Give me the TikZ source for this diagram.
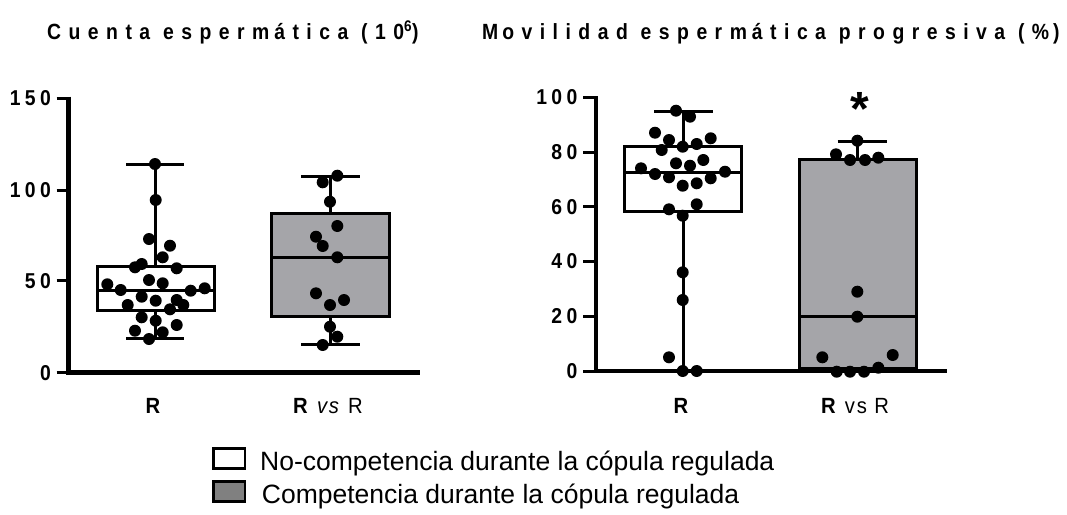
\documentclass[tikz,border=0pt]{standalone}
\usepackage{fontspec}
\setmainfont{Liberation Sans}
\newfontfamily\titlefont[LetterSpace=34,FakeStretch=0.88]{Liberation Sans}
\newfontfamily\tickfont[LetterSpace=20,FakeStretch=0.9]{Liberation Sans}
\newfontfamily\catfont[LetterSpace=8,FakeStretch=0.92]{Liberation Sans}
\definecolor{boxgray}{RGB}{165,165,169}
\definecolor{leggray}{RGB}{128,128,128}
\tikzset{
  axisline/.style={line width=4.5pt},
  tickline/.style={line width=3pt},
  boxline/.style={line width=3pt},
  datadot/.style={fill=black},
  ticklab/.style={anchor=east,inner sep=0pt,font=\tickfont\bfseries\fontsize{21.5}{21.5}\selectfont},
  catlab/.style={anchor=base,inner sep=0pt,font=\catfont\fontsize{22}{22}\selectfont},
  titlelab/.style={anchor=base west,inner sep=0pt,font=\titlefont\bfseries\fontsize{22}{22}\selectfont},
  leglab/.style={anchor=base west,inner sep=0pt,font=\fontsize{26.5}{26.5}\selectfont},
}
\begin{document}
\begin{tikzpicture}[x=1pt,y=-1pt]
\useasboundingbox (0,0) rectangle (1067,514);
% titles
\node[titlelab] (t1) at (47,39) {Cuenta esperm\kern5ptática (10\textsuperscript{6})};
\node[titlelab] (t2) at (482,39) {M\kern4ptovilidad esperm\kern5ptática progresiva (\%\kern4pt)};

% ===== left plot =====
\draw[axisline] (68.3,96.5) -- (68.3,374.5);
\draw[axisline] (66,372.5) -- (420,372.5);
\foreach \yy/\lab in {98.3/150,190/100,280.7/50,372.7/0}{
  \draw[tickline] (56.7,\yy) -- (68,\yy);
  \node[ticklab] (lt\lab) at (51,\yy) {\lab};
}
% box 1 (white)
\draw[boxline] (155.7,164) -- (155.7,338.3);
\draw[boxline,fill=white] (97.3,266) rectangle (214,310.7);
\draw[boxline] (97.3,290) -- (214,290);
\draw[boxline] (126,164) -- (184.3,164);
\draw[boxline] (126,338.3) -- (184.3,338.3);
% box 2 (gray)
\draw[boxline] (330.3,176) -- (330.3,344.3);
\draw[boxline,fill=boxgray] (271.7,213.3) rectangle (389,316);
\draw[boxline] (271.7,257.3) -- (389,257.3);
\draw[boxline] (301,176) -- (360,176);
\draw[boxline] (301,344.3) -- (360,344.3);
% dots
\foreach \px/\py in {155/164,155.7/200,149/239,170/245.7,162.7/257.3,135/267.3,141.7/264,176.7/268.3,
  107.3/284.3,120.7/290,149/280,162.7/283.3,190.7/290.7,204.7/288.3,141.7/296.7,155.7/300.7,
  176.7/300,183.3/305,127.7/305,170/309.3,141.7/317.3,155.7/320.7,176.7/325,135/330.7,162.7/332.3,149/339}
  \fill[datadot] (\px,\py) circle[radius=6pt];
\foreach \px/\py in {337.3/175.7,322.7/182.3,330/201.7,337.3/226,316/236.7,322.7/246,337.3/257.3,
  316/293.3,344/300,330/305,330/326.7,337.3/336.7,322.7/345}
  \fill[datadot] (\px,\py) circle[radius=6pt];
\node[catlab] (c1) at (153,413.3) {\bfseries R};
\node[catlab] (c2) at (328,413.3) {\textbf{R} \textit{vs} R};

% ===== right plot =====
\draw[axisline] (596,96) -- (596,373);
\draw[axisline] (594,371) -- (946.7,371);
\foreach \yy/\lab in {97.3/100,152.3/80,206.7/60,261/40,316/20,371/0}{
  \draw[tickline] (583.3,\yy) -- (595,\yy);
  \node[ticklab] (rt\lab) at (577.5,\yy) {\lab};
}
% box 1 (white)
\draw[boxline] (683,111.3) -- (683,371);
\draw[boxline,fill=white] (624.3,146) rectangle (741.7,211.7);
\draw[boxline] (624.3,172) -- (741.7,172);
\draw[boxline] (654.3,111.3) -- (712.7,111.3);
% box 2 (gray)
\draw[boxline] (857.5,141) -- (857.5,159);
\draw[boxline,fill=boxgray] (799,159) rectangle (916,368.3);
\draw[boxline] (799,316) -- (916,316);
\draw[boxline] (837.7,141) -- (886.7,141);
% dots
\foreach \px/\py in {676/110.7,690/116.7,655/132.7,669/140,710.7/138.3,696.7/144,682.7/146.7,661.7/150,
  676/163.3,690/165.7,703.3/160,641/168.3,655/174,669/177.3,725/171.7,710.7/178.3,696.7/183.3,
  682.7/185.7,696.7/204.3,669/209.3,682.7/215.7,682.7/272.3,682.7/300,669/357.3,682.7/371,696.7/371}
  \fill[datadot] (\px,\py) circle[radius=6pt];
\foreach \px/\py in {857.3/140.7,836/154.3,850/160,865/160,878.3/157.7,857.3/291.7,857.3/316.7,
  822.3/357.3,892.7/355,836.7/371.7,850/371.7,864/371.7,878.3/367.7}
  \fill[datadot] (\px,\py) circle[radius=6pt];
\node[anchor=base,inner sep=0pt,font=\bfseries\fontsize{48}{48}\selectfont] (star) at (860,125) {*};
\node[catlab] (c3) at (681,413.3) {\bfseries R};
\node[catlab] (c4) at (855,413.3) {\textbf{R} vs R};

% ===== legend =====
\draw[line width=2.5pt,fill=white] (213.3,448.3) rectangle (245,468.3);
\node[leglab] (l1) at (260,470) {No-competencia durante la cópula regulada};
\draw[line width=2.5pt,fill=leggray] (213.3,481.7) rectangle (245,501.7);
\node[leglab] (l2) at (261.7,503) {Competencia durante la cópula regulada};
\end{tikzpicture}
\end{document}
